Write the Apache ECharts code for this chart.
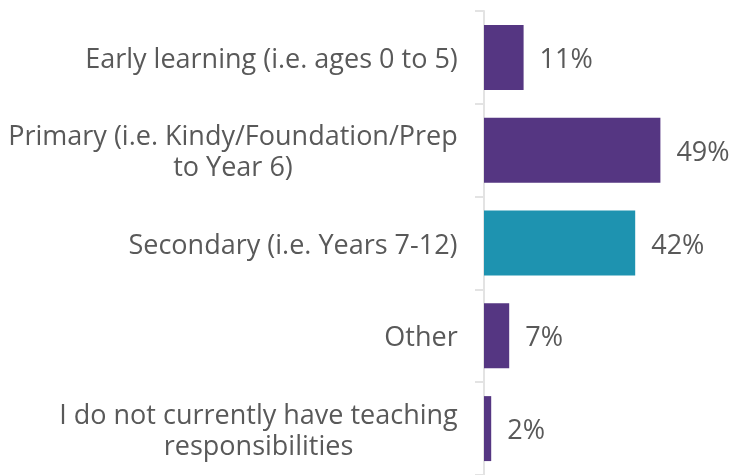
<!DOCTYPE html>
<html><head><meta charset="utf-8">
<script src="https://cdn.jsdelivr.net/npm/echarts@6/dist/echarts.min.js"></script>
<style>html,body{margin:0;padding:0;background:#fff}#c{width:729px;height:475px}</style>
</head><body><div id="c"></div>
<script>
var categories = [
  "Early learning (i.e. ages 0 to 5)",
  "Primary (i.e. Kindy/Foundation/Prep\nto Year 6)",
  "Secondary (i.e. Years 7-12)",
  "Other",
  "I do not currently have teaching\nresponsibilities"
];
var values = [11, 49, 42, 7, 2];
var barColors = ["#553682", "#553682", "#1e93b0", "#553682", "#553682"];

var FONT = "Open Sans";
var FS = 27;
var ctx = document.createElement("canvas").getContext("2d");
ctx.font = FS + "px '" + FONT + "'";
var rich = {};
categories.forEach(function (c, i) {
  var w = Math.max.apply(null, c.split("\n").map(function (s) { return ctx.measureText(s).width; }));
  rich["c" + i] = { width: Math.ceil(w), align: "center", fontSize: FS, fontFamily: FONT, color: "#595959", lineHeight: 31 };
});

var chart = echarts.init(document.getElementById("c"), null, { renderer: "canvas" });
chart.setOption({
  animation: false,
  grid: { left: 484, right: 29, top: 11, bottom: -3, containLabel: false },
  xAxis: { type: "value", min: 0, max: 60, show: false },
  yAxis: {
    type: "category", inverse: true, data: categories,
    axisLine: { show: true, lineStyle: { color: "#e3e3e3", width: 2 } },
    axisTick: { show: true, length: 9, lineStyle: { color: "#e3e3e3", width: 2 } },
    axisLabel: {
      margin: 26, color: "#595959", fontSize: FS, fontFamily: FONT, lineHeight: 31,
      padding: [6, 0, 0, 0],
      formatter: function (v, idx) {
        return v.split("\n").map(function (s) { return "{c" + idx + "|" + s + "}"; }).join("\n");
      },
      rich: rich
    }
  },
  series: [{
    type: "bar", barCategoryGap: "30%",
    data: values.map(function (v, i) { return { value: v, itemStyle: { color: barColors[i] } }; }),
    label: { show: true, position: "right", distance: 16, offset: [0, 3], formatter: "{c}%", color: "#595959", fontSize: FS, fontFamily: FONT }
  }]
});
</script></body></html>
